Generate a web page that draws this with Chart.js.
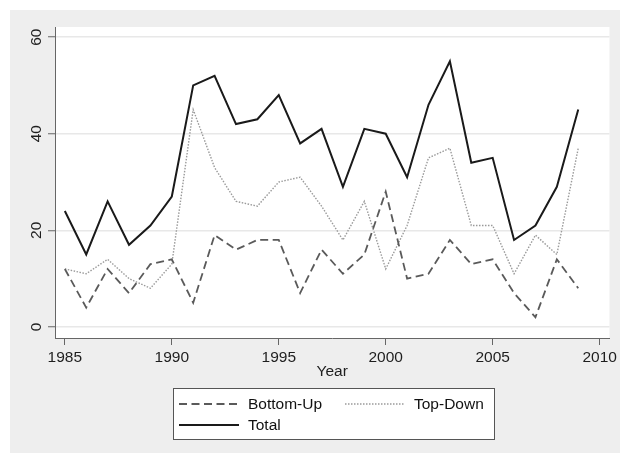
<!DOCTYPE html>
<html>
<head>
<meta charset="utf-8">
<script src="https://cdn.jsdelivr.net/npm/chart.js@4/dist/chart.umd.min.js"></script>
<style>
  body { margin: 0; background: #ffffff; }
  #wrap { width: 620px; height: 453px; }
</style>
</head>
<body>
<div id="wrap"><canvas id="myChart" width="620" height="453"></canvas></div>
<script>
// values
var years = [1985, 1986, 1987, 1988, 1989, 1990, 1991, 1992, 1993, 1994, 1995, 1996, 1997,
             1998, 1999, 2000, 2001, 2002, 2003, 2004, 2005, 2006, 2007, 2008, 2009];
var bottomUp = [12, 4, 12, 7, 13, 14, 5, 19, 16, 18, 18, 7, 16, 11, 15, 28, 10, 11, 18, 13, 14, 7, 2, 14, 8];
var topDown = [12, 11, 14, 10, 8, 13, 45, 33, 26, 25, 30, 31, 25, 18, 26, 12, 21, 35, 37, 21, 21, 11, 19, 15, 37];
var total = [24, 15, 26, 17, 21, 27, 50, 52, 42, 43, 48, 38, 41, 29, 41, 40, 31, 46, 55, 34, 35, 18, 21, 29, 45];
var xTicks = [1985, 1990, 1995, 2000, 2005, 2010];
var yTicks = [0, 20, 40, 60];

var fontFamily = '"Liberation Sans", Arial, Helvetica, sans-serif';
var fontSize = 15.5;

function points(values) {
    return years.map(function (yr, i) { return { x: yr, y: values[i] }; });
}

// gray graph region + white plot region
var backgroundPlugin = {
    id: 'background',
    beforeDraw: function (chart) {
        var c = chart.ctx, a = chart.chartArea;
        c.save();
        c.fillStyle = '#ffffff';
        c.fillRect(0, 0, chart.width, chart.height);
        c.fillStyle = '#eeeeee';
        c.fillRect(10, 10, chart.width - 10, chart.height - 10);
        c.fillStyle = '#ffffff';
        c.fillRect(a.left, a.top, a.right - a.left, a.bottom - a.top);
        c.restore();
    }
};

// vertical y tick labels and the boxed legend
var labelsPlugin = {
    id: 'labels',
    afterDraw: function (chart) {
        var c = chart.ctx;
        var yScale = chart.scales.y;
        c.save();
        c.font = fontSize + 'px ' + fontFamily;
        c.fillStyle = '#1e1e1e';
        c.textAlign = 'center';
        c.textBaseline = 'middle';
        yScale.ticks.forEach(function (t) {
            var py = yScale.getPixelForValue(t.value);
            c.save();
            c.translate(37, py);
            c.rotate(-Math.PI / 2);
            c.fillText(String(t.value), 0, 0);
            c.restore();
        });

        // legend box
        c.fillStyle = '#ffffff';
        c.fillRect(173.5, 388.5, 321, 51);
        c.strokeStyle = '#555555';
        c.lineWidth = 1;
        c.strokeRect(173.5, 388.5, 321, 51);

        var items = [
            { ds: 0, x: 179, y: 404 },
            { ds: 1, x: 345, y: 404 },
            { ds: 2, x: 179, y: 425 }
        ];
        items.forEach(function (it) {
            var d = chart.data.datasets[it.ds];
            c.save();
            c.strokeStyle = d.borderColor;
            c.lineWidth = d.borderWidth;
            c.setLineDash(d.borderDash || []);
            c.beginPath();
            c.moveTo(it.x, it.y);
            c.lineTo(it.x + 60, it.y);
            c.stroke();
            c.restore();
            c.fillStyle = '#111111';
            c.textAlign = 'left';
            c.textBaseline = 'middle';
            c.fillText(d.label, it.x + 69, it.y + 1);
        });
        c.restore();
    }
};

var ctx = document.getElementById('myChart').getContext('2d');
var myChart = new Chart(ctx, {
    type: 'line',
    data: {
        datasets: [{
            label: 'Bottom-Up',
            data: points(bottomUp),
            borderColor: '#5a5a5a',
            borderWidth: 1.8,
            borderDash: [8, 4.5],
            pointRadius: 0,
            order: 1
        }, {
            label: 'Top-Down',
            data: points(topDown),
            borderColor: '#9a9a9a',
            borderWidth: 1.4,
            borderDash: [1.5, 1.5],
            pointRadius: 0,
            order: 2
        }, {
            label: 'Total',
            data: points(total),
            borderColor: '#1a1a1a',
            borderWidth: 2,
            pointRadius: 0,
            order: 0
        }]
    },
    options: {
        responsive: false,
        animation: false,
        devicePixelRatio: 1,
        layout: { padding: { top: 27, right: 7, left: 0, bottom: 72 } },
        plugins: {
            legend: { display: false },
            tooltip: { enabled: false }
        },
        elements: { line: { tension: 0 } },
        scales: {
            x: {
                type: 'linear',
                min: 1984.54,
                max: 2010.46,
                afterBuildTicks: function (scale) {
                    scale.ticks = xTicks.map(function (v) { return { value: v }; });
                },
                afterFit: function (scale) { scale.height = 43; },
                grid: { drawOnChartArea: false, tickLength: 7, tickColor: '#666666', tickWidth: 1 },
                border: { color: '#666666', width: 1 },
                ticks: {
                    maxRotation: 0,
                    padding: 3,
                    color: '#1e1e1e',
                    font: { family: fontFamily, size: fontSize },
                    callback: function (v) { return String(v); }
                },
                title: {
                    display: true,
                    text: 'Year',
                    color: '#1e1e1e',
                    padding: 0,
                    font: { family: fontFamily, size: fontSize }
                }
            },
            y: {
                min: -2.3,
                max: 62.1,
                afterBuildTicks: function (scale) {
                    scale.ticks = yTicks.map(function (v) { return { value: v }; });
                },
                afterFit: function (scale) { scale.width = 55; },
                grid: { color: '#e8e8e8', lineWidth: 1.5, tickLength: 7, tickColor: '#666666', tickWidth: 1 },
                border: { color: '#666666', width: 1 },
                ticks: { display: false }
            }
        }
    },
    plugins: [backgroundPlugin, labelsPlugin]
});
</script>
</body>
</html>
